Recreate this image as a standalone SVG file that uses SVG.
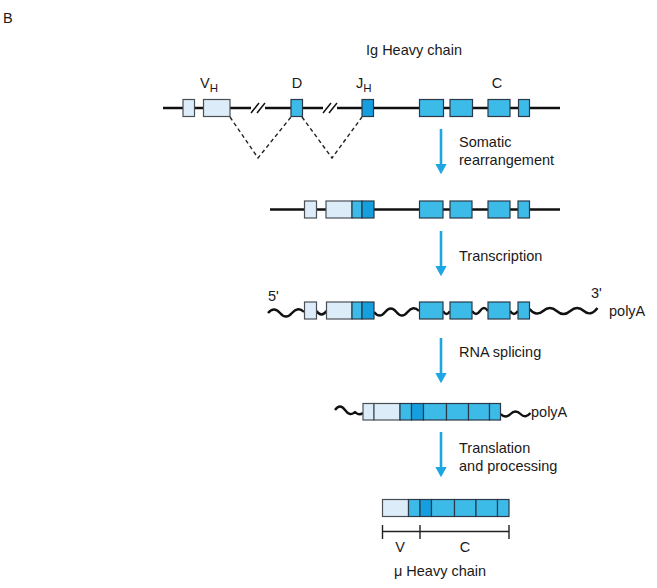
<svg xmlns="http://www.w3.org/2000/svg" width="657" height="588" viewBox="0 0 657 588">
<defs>
<style>
text{font-family:"Liberation Sans",Arial,sans-serif;fill:#1a1a1a;font-size:14.5px}
.ln{stroke:#111;stroke-width:2.6;fill:none}
.wv{stroke:#111;stroke-width:2.4;fill:none;stroke-linejoin:round}
.lt{fill:#dcedf9;stroke:#4a4f55;stroke-width:1.2}
.md{fill:#3cbbe9;stroke:#2a3a48;stroke-width:1.2}
.dk{fill:#159fde;stroke:#2a3a48;stroke-width:1.2}
.dash{stroke:#222;stroke-width:1.4;stroke-dasharray:4,3;fill:none}
.arr{stroke:#1ea6e2;stroke-width:2.6;fill:none}
.brk{stroke:#111;stroke-width:1.5}
.brc{stroke:#222;stroke-width:1.4;fill:none}
</style>
<marker id="ah" markerWidth="4" markerHeight="4.4" viewBox="0 0 10 11" refX="3" refY="5.5" orient="auto" markerUnits="strokeWidth">
<path d="M0,0 L10,5.5 L0,11 Z" fill="#1ea6e2"/>
</marker>
</defs>
<rect width="657" height="588" fill="#fff"/>
<text x="3" y="23" font-size="16">B</text>

<g id="connectors">
<line class="arr" x1="441" y1="129" x2="441" y2="167" marker-end="url(#ah)"/>
<line class="arr" x1="441" y1="231" x2="441" y2="269" marker-end="url(#ah)"/>
<line class="arr" x1="441" y1="338" x2="441" y2="376" marker-end="url(#ah)"/>
<line class="arr" x1="441" y1="432" x2="441" y2="470" marker-end="url(#ah)"/>
<path class="dash" d="M230,117 L258,158 L291,117"/>
<path class="dash" d="M302,117 L332,158 L362,117"/>
</g>

<g id="gene">
<text x="414" y="55" text-anchor="middle" font-size="16">Ig Heavy chain</text>
<line class="ln" x1="163" y1="108" x2="560" y2="108"/>
<rect x="251" y="100" width="14" height="16" fill="#fff"/>
<line class="brk" x1="251" y1="113" x2="259" y2="103"/>
<line class="brk" x1="257" y1="113" x2="265" y2="103"/>
<rect x="323" y="100" width="14" height="16" fill="#fff"/>
<line class="brk" x1="323" y1="113" x2="331" y2="103"/>
<line class="brk" x1="329" y1="113" x2="337" y2="103"/>
<rect class="lt" x="183" y="99.5" width="11.5" height="17"/>
<rect class="lt" x="203.5" y="99.5" width="26.5" height="17"/>
<rect class="md" x="291" y="99.5" width="11.5" height="17"/>
<rect class="dk" x="362" y="99.5" width="11.5" height="17"/>
<rect class="md" x="419.5" y="99.5" width="24" height="17"/>
<rect class="md" x="450" y="99.5" width="22.5" height="17"/>
<rect class="md" x="488" y="99.5" width="22" height="17"/>
<rect class="md" x="518.5" y="99.5" width="11" height="17"/>
<text x="200" y="88">V<tspan font-size="11.5" dy="4">H</tspan></text>
<text x="297" y="88" text-anchor="middle">D</text>
<text x="356" y="88">J<tspan font-size="11.5" dy="4">H</tspan></text>
<text x="497" y="88" text-anchor="middle">C</text>
</g>

<g id="label-somatic">
<text x="459" y="147">Somatic</text>
<text x="459" y="165">rearrangement</text>
</g>

<g id="dna">
<line class="ln" x1="270" y1="209.5" x2="560" y2="209.5"/>
<rect class="lt" x="304.5" y="201" width="12" height="17"/>
<rect class="lt" x="326" y="201" width="26" height="17"/>
<rect class="md" x="352" y="201" width="10" height="17"/>
<rect class="dk" x="362" y="201" width="12" height="17"/>
<rect class="md" x="419.5" y="201" width="23.5" height="17"/>
<rect class="md" x="450" y="201" width="22" height="17"/>
<rect class="md" x="488" y="201" width="22" height="17"/>
<rect class="md" x="518" y="201" width="11.5" height="17"/>
</g>

<g id="label-transcription">
<text x="459" y="261">Transcription</text>
</g>

<g id="pre-mrna">
<path class="wv" d="M268,313 q6,-7 12,0 t12,0 t12,-1"/>
<path class="wv" d="M316.5,311 q5,7 10,0"/>
<path class="wv" d="M374,312 q5.6,7 11.2,0 t11.2,0 t11.2,0 t11.4,-1"/>
<path class="wv" d="M443,311 q3.5,6 7,0"/>
<path class="wv" d="M472,311 q4,6 8,0 t8,0"/>
<path class="wv" d="M510,311 q4,6 8,0"/>
<path class="wv" d="M529.5,309 q6.8,8 13.6,2 t13.6,0 t13.6,0 t13.6,0 t13.6,-3"/>
<rect class="lt" x="304.5" y="302" width="12" height="17"/>
<rect class="lt" x="326.5" y="302" width="25.5" height="17"/>
<rect class="md" x="352" y="302" width="10" height="17"/>
<rect class="dk" x="362" y="302" width="12" height="17"/>
<rect class="md" x="419.5" y="302" width="23.5" height="17"/>
<rect class="md" x="450" y="302" width="22" height="17"/>
<rect class="md" x="488" y="302" width="22" height="17"/>
<rect class="md" x="518" y="302" width="11.5" height="17"/>
<text x="268" y="301">5'</text>
<text x="591" y="298">3'</text>
<text x="609" y="316">polyA</text>
</g>

<g id="label-splicing">
<text x="459" y="357">RNA splicing</text>
</g>

<g id="mrna">
<path class="wv" d="M335,410 q5,-7 10,0 t10,2 q4,4 8,1"/>
<path class="wv" d="M500.5,414 q5,5 10,0 t10,0 t10,-1"/>
<rect class="lt" x="363" y="403.5" width="11" height="16.5"/>
<rect class="lt" x="374" y="403.5" width="26" height="16.5"/>
<rect class="md" x="400" y="403.5" width="11.5" height="16.5"/>
<rect class="dk" x="411.5" y="403.5" width="12" height="16.5"/>
<rect class="md" x="423.5" y="403.5" width="23" height="16.5"/>
<rect class="md" x="446.5" y="403.5" width="22" height="16.5"/>
<rect class="md" x="468.5" y="403.5" width="21" height="16.5"/>
<rect class="md" x="489.5" y="403.5" width="11" height="16.5"/>
<text x="531" y="417">polyA</text>
</g>

<g id="label-translation">
<text x="459" y="453">Translation</text>
<text x="459" y="471">and processing</text>
</g>

<g id="protein">
<rect class="lt" x="382.5" y="499.5" width="26" height="17"/>
<rect class="md" x="408.5" y="499.5" width="11.5" height="17"/>
<rect class="dk" x="420" y="499.5" width="11.5" height="17"/>
<rect class="md" x="431.5" y="499.5" width="23" height="17"/>
<rect class="md" x="454.5" y="499.5" width="21.5" height="17"/>
<rect class="md" x="476" y="499.5" width="21.5" height="17"/>
<rect class="md" x="497.5" y="499.5" width="11.5" height="17"/>
<path class="brc" d="M382.5,531.5 H509 M382.5,525 V539 M420,525 V539 M509,525 V539"/>
<text x="400" y="552" text-anchor="middle">V</text>
<text x="465" y="552" text-anchor="middle">C</text>
<text x="440" y="576" text-anchor="middle">μ Heavy chain</text>
</g>
</svg>
